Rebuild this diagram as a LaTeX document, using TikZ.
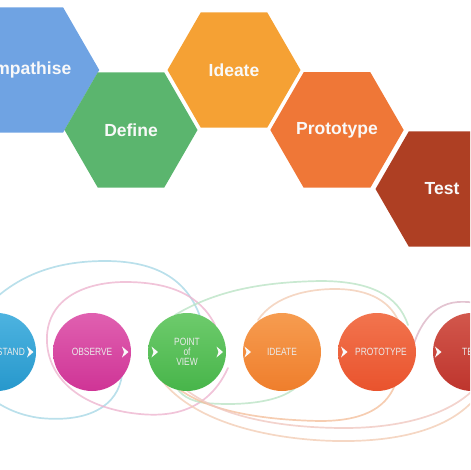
\documentclass[tikz,border=0pt]{standalone}
\usepackage{fontspec}
\setmainfont{Liberation Sans}
\usetikzlibrary{shapes.geometric}
\definecolor{hexEmp}{HTML}{6FA3E3}
\definecolor{hexDef}{HTML}{5BB56E}
\definecolor{hexIde}{HTML}{F5A134}
\definecolor{hexPro}{HTML}{EF7737}
\definecolor{hexTes}{HTML}{AE3F23}
\definecolor{cUnd}{HTML}{2798CC}\definecolor{cUndL}{HTML}{4DB3E0}
\definecolor{cObs}{HTML}{CF3496}\definecolor{cObsL}{HTML}{E060B0}
\definecolor{cPov}{HTML}{47B54A}\definecolor{cPovL}{HTML}{6ECB6C}
\definecolor{cIde}{HTML}{EF7E2C}\definecolor{cIdeL}{HTML}{F69C50}
\definecolor{cPro}{HTML}{E9532D}\definecolor{cProL}{HTML}{F2744E}
\definecolor{cTes}{HTML}{BE352D}\definecolor{cTesL}{HTML}{D2574C}
\definecolor{lBlue}{HTML}{A9D8E6}
\definecolor{lPink}{HTML}{EDB5CF}
\definecolor{lGreen}{HTML}{BCE3C6}
\definecolor{lPeach}{HTML}{F3CDB5}
\definecolor{lOrange}{HTML}{F4C09E}
\definecolor{lRose}{HTML}{F0C8C0}
\definecolor{lMauve}{HTML}{DCB5C5}
\begin{document}
\begin{tikzpicture}[x=1pt,y=-1pt,
  hexbox/.style={regular polygon, regular polygon sides=6, minimum size=133pt,
    inner sep=0pt, text=white!95!gray, font=\bfseries\fontsize{17.5}{18}\selectfont},
  ball/.style={circle, minimum size=78pt, inner sep=0pt},
  blab/.style={text=white!92!black, font=\fontsize{10.5}{10}\selectfont, xscale=0.8, align=center, inner sep=0pt},
  loopline/.style={line width=1.7pt, line cap=round, opacity=0.8},
  chev/.style={fill=white!95!gray}]
\useasboundingbox (0,0) rectangle (470,470);
\clip (0,0) rectangle (470,470);
% hexagons
\node[hexbox, fill=hexEmp] (hemp) at (27,70) {Empathise};
\node[hexbox, fill=hexDef] (hdef) at (131,130) {Define};
\node[hexbox, fill=hexIde] (hide) at (234,70) {Ideate};
\node[hexbox, fill=hexPro] (hpro) at (337,130) {Prototype};
\node[hexbox, fill=hexTes] (htes) at (442,189) {Test};
% loops
\draw[loopline, lBlue] (205,335) .. controls (195,282) and (160,261) .. (105,261)
  .. controls (45,261) and (5,282) .. (-25,320)
  .. controls (-50,360) and (-20,410) .. (40,418)
  .. controls (90,423) and (118,405) .. (122,375);
\draw[loopline, lPink] (228,368) .. controls (205,418) and (160,418) .. (125,412)
  .. controls (70,402) and (45,370) .. (47,335)
  .. controls (50,295) and (90,282) .. (125,282)
  .. controls (170,282) and (200,295) .. (215,325);
\draw[loopline, lGreen] (175,315) .. controls (220,288) and (270,282) .. (320,281)
  .. controls (370,281) and (398,295) .. (408,325);
\draw[loopline, lGreen] (300,383) .. controls (285,403) and (240,406) .. (205,403)
  .. controls (190,401) and (180,395) .. (175,385);
\draw[loopline, lPeach] (258,320) .. controls (275,295) and (310,289) .. (335,289)
  .. controls (370,289) and (392,302) .. (400,325);
\draw[loopline, lOrange] (165,375) .. controls (190,410) and (260,420) .. (320,421)
  .. controls (360,421) and (385,410) .. (395,385);
\draw[loopline, lRose] (168,372) .. controls (205,420) and (290,428) .. (345,428)
  .. controls (400,428) and (450,415) .. (475,388);
\draw[loopline, lPeach] (160,378) .. controls (200,432) and (300,442) .. (350,441)
  .. controls (410,440) and (455,425) .. (478,395);
\draw[loopline, lMauve] (408,372) .. controls (412,335) and (428,304) .. (458,302)
  .. controls (475,301) and (485,305) .. (495,312);
% circles
\node[ball, top color=cUndL, bottom color=cUnd] (und) at (-3,352) {};
\node[ball, top color=cObsL, bottom color=cObs] (obs) at (92,352) {};
\node[ball, top color=cPovL, bottom color=cPov] (pov) at (187,352) {};
\node[ball, top color=cIdeL, bottom color=cIde] (ide) at (282,352) {};
\node[ball, top color=cProL, bottom color=cPro] (pro) at (377,352) {};
\node[ball, top color=cTesL, bottom color=cTes] (tes) at (472,352) {};
% labels
\node[blab, anchor=east] (undt) at (25,352) {UNDERSTAND};
\node[blab] (obst) at (92,352) {OBSERVE};
\node[blab, font=\fontsize{10.5}{10}\selectfont] (povt) at (187,352) {POINT\\of\\VIEW};
\node[blab] (idet) at (282,352) {IDEATE};
\node[blab] (prot) at (381,352) {PROTOTYPE};
\node[blab, anchor=west] (test) at (462,352) {TEST};
% chevrons
\foreach \cx in {30,125,154.5,219.5,247.5,344,438}{
  \fill[chev] (\cx-3,346.5) -- (\cx+3.5,352) -- (\cx-3,357.5) -- (\cx-1,352) -- cycle;
}
\end{tikzpicture}
\end{document}
